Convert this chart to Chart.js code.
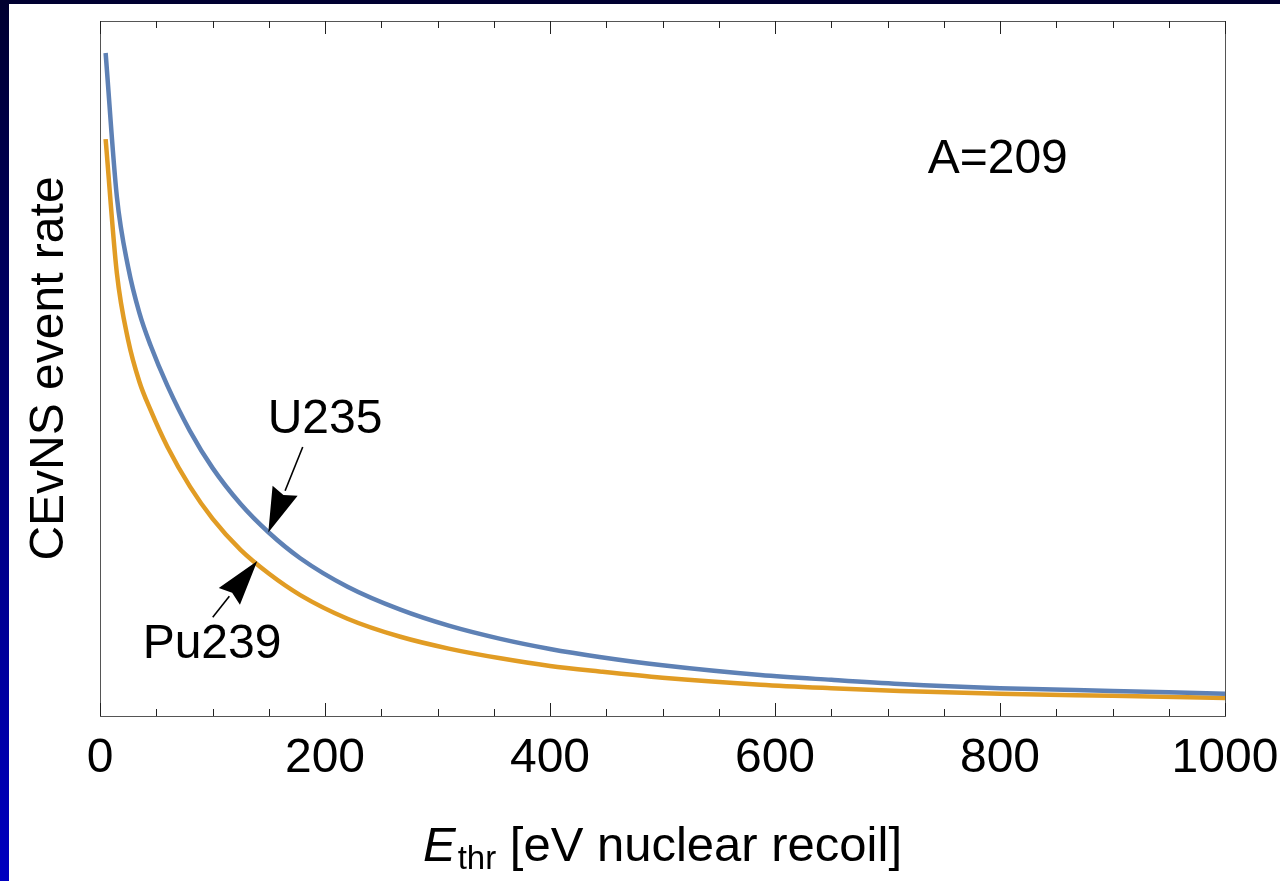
<!DOCTYPE html>
<html>
<head>
<meta charset="utf-8">
<script src="https://cdn.jsdelivr.net/npm/chart.js@4.4.1/dist/chart.umd.min.js"></script>
<style>
  html, body { margin: 0; padding: 0; }
  body {
    width: 1280px; height: 881px; overflow: hidden; position: relative;
    background: linear-gradient(#000030, #0000c0);
  }
  #wrap {
    position: absolute; left: 9px; top: 4px; width: 1271px; height: 877px;
    background: #ffffff;
  }
</style>
</head>
<body>
<div id="wrap"><canvas id="rateChart"></canvas></div>
<script>
// threshold energy [eV] and relative rate (arbitrary units)
const u235Energy = [5, 15, 25, 35, 45, 60, 80, 100, 125, 150, 178, 220, 267, 310, 356, 400, 444, 500, 587, 650, 711, 800, 900, 1000];
const u235Rate   = [95.4, 74.7, 64.6, 58.0, 53.3, 47.5, 41.0, 35.7, 30.5, 26.4, 22.7, 18.6, 15.3, 13.0, 11.1, 9.65, 8.5, 7.3, 5.9, 5.2, 4.6, 4.0, 3.6, 3.2];

const pu239Energy = [5, 15, 25, 35, 45, 60, 80, 100, 125, 150, 178, 220, 267, 310, 356, 400, 444, 500, 587, 650, 711, 800, 900, 1000];
const pu239Rate   = [83.0, 63.7, 54.1, 48.1, 44.0, 38.7, 33.0, 28.4, 23.9, 20.5, 17.4, 14.0, 11.4, 9.7, 8.3, 7.2, 6.4, 5.5, 4.5, 4.0, 3.6, 3.2, 2.9, 2.6];

const xTickLabels = [0, 200, 400, 600, 800, 1000];
const xMinorStep = 50;

// text labels with arrows (data coordinates)
const curveNotes = [
  { text: 'U235',  label: [200, 42.6], tail: [180.2, 38.7], tip: [149.6, 26.4] },
  { text: 'Pu239', label: [99.6, 10.2], tail: [100.2, 14.2], tip: [139.8, 22.3] }
];
const massNote = { text: 'A=209', at: [798, 80] };

const FONT = '"Liberation Sans", Arial, Helvetica, sans-serif';

function toPoints(xs, ys) {
  return xs.map((x, i) => ({ x: x, y: ys[i] }));
}

// frame with inward ticks (Mathematica style)
const framePlugin = {
  id: 'frame',
  beforeDatasetsDraw(chart) {
    const { ctx, chartArea: a, scales } = chart;
    const xs = scales.x;
    ctx.save();
    ctx.strokeStyle = '#555555';
    ctx.lineWidth = 1;
    ctx.strokeRect(Math.round(a.left) + 0.5, Math.round(a.top) + 0.5,
      Math.round(a.right - a.left), Math.round(a.bottom - a.top));
    ctx.strokeStyle = '#222222';
    for (let v = xs.min; v <= xs.max; v += xMinorStep) {
      const px = Math.round(xs.getPixelForValue(v)) + 0.5;
      const len = xTickLabels.includes(v) ? 13 : 7;
      ctx.beginPath();
      ctx.moveTo(px, a.bottom);
      ctx.lineTo(px, a.bottom - len);
      ctx.moveTo(px, a.top);
      ctx.lineTo(px, a.top + len);
      ctx.stroke();
    }
    ctx.restore();
  }
};

function drawArrow(ctx, x0, y0, x1, y1) {
  const ang = Math.atan2(y1 - y0, x1 - x0);
  const headLen = 45, headW = 13.5;
  const bx = x1 - headLen * Math.cos(ang), by = y1 - headLen * Math.sin(ang);
  ctx.beginPath();
  ctx.moveTo(x0, y0);
  ctx.lineTo(bx, by);
  ctx.stroke();
  ctx.beginPath();
  ctx.moveTo(x1, y1);
  ctx.lineTo(bx + headW * Math.sin(ang), by - headW * Math.cos(ang));
  ctx.lineTo(x1 - headLen * 0.9 * Math.cos(ang), y1 - headLen * 0.9 * Math.sin(ang));
  ctx.lineTo(bx - headW * Math.sin(ang), by + headW * Math.cos(ang));
  ctx.closePath();
  ctx.fill();
}

const notesPlugin = {
  id: 'notes',
  afterDatasetsDraw(chart) {
    const { ctx, scales, chartArea: a } = chart;
    const px = v => scales.x.getPixelForValue(v);
    const py = v => scales.y.getPixelForValue(v);
    ctx.save();
    ctx.fillStyle = '#000000';
    ctx.strokeStyle = '#000000';
    ctx.lineWidth = 1.6;
    ctx.font = '48px ' + FONT;
    ctx.textAlign = 'center';
    ctx.textBaseline = 'middle';
    curveNotes.forEach(n => {
      ctx.fillText(n.text, px(n.label[0]), py(n.label[1]));
      drawArrow(ctx, px(n.tail[0]), py(n.tail[1]), px(n.tip[0]), py(n.tip[1]));
    });
    ctx.fillText(massNote.text, px(massNote.at[0]), py(massNote.at[1]));

    // x axis title with subscript
    const base = 857;
    const mainFont = '49px ' + FONT;
    const subFont = '33px ' + FONT;
    const rest = ' [eV nuclear recoil]';
    ctx.textBaseline = 'alphabetic';
    ctx.textAlign = 'left';
    ctx.font = 'italic ' + mainFont;
    const wE = ctx.measureText('E').width;
    ctx.font = subFont;
    const wSub = ctx.measureText('thr').width;
    ctx.font = mainFont;
    const wRest = ctx.measureText(rest).width;
    let x = (a.left + a.right) / 2 - (wE + wSub + 2 + wRest) / 2;
    ctx.font = 'italic ' + mainFont;
    ctx.fillText('E', x, base);
    x += wE + 2;
    ctx.font = subFont;
    ctx.fillText('thr', x, base + 8);
    x += wSub;
    ctx.font = mainFont;
    ctx.fillText(rest, x, base);
    ctx.restore();
  }
};

const ctx = document.getElementById('rateChart').getContext('2d');
const rateChart = new Chart(ctx, {
  type: 'line',
  data: {
    datasets: [
      {
        label: 'U235',
        data: toPoints(u235Energy, u235Rate),
        borderColor: '#5e81b5',
        borderWidth: 4.5,
        pointRadius: 0,
        cubicInterpolationMode: 'monotone',
        fill: false
      },
      {
        label: 'Pu239',
        data: toPoints(pu239Energy, pu239Rate),
        borderColor: '#e19c24',
        borderWidth: 4.5,
        pointRadius: 0,
        cubicInterpolationMode: 'monotone',
        fill: false
      }
    ]
  },
  options: {
    responsive: true,
    maintainAspectRatio: false,
    animation: false,
    layout: { padding: { top: 17, right: 55, left: 0, bottom: 0 } },
    plugins: {
      legend: { display: false },
      tooltip: { enabled: false }
    },
    scales: {
      x: {
        type: 'linear',
        min: 0,
        max: 1000,
        grid: { display: false },
        border: { display: false },
        afterBuildTicks: s => { s.ticks = xTickLabels.map(v => ({ value: v })); },
        afterFit: s => { s.height = 165; s.paddingLeft = 0; s.paddingRight = 0; },
        ticks: {
          autoSkip: false,
          maxRotation: 0,
          padding: 6,
          color: '#000000',
          font: { family: FONT, size: 48 },
          callback: v => String(v)
        }
      },
      y: {
        type: 'linear',
        min: 0,
        max: 100,
        grid: { display: false },
        border: { display: false },
        ticks: { display: false },
        afterFit: s => { s.width = 91; },
        title: {
          display: true,
          text: 'CEvNS event rate',
          color: '#000000',
          font: { family: FONT, size: 48, lineHeight: 1.2 },
          padding: { top: 12, bottom: 0 }
        }
      }
    }
  },
  plugins: [framePlugin, notesPlugin]
});
</script>
</body>
</html>
